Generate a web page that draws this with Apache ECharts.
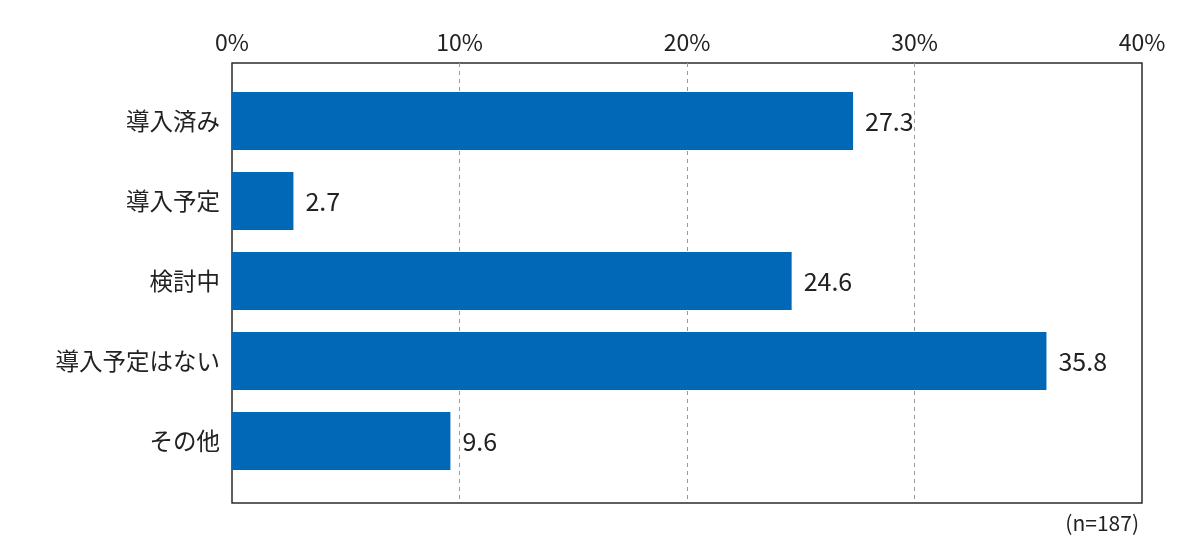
<!DOCTYPE html>
<html>
<head>
<meta charset="utf-8">
<script src="https://cdn.jsdelivr.net/npm/echarts@6/dist/echarts.min.js"></script>
<style>
  html, body { margin: 0; padding: 0; background: #fff; }
  #chart { width: 1200px; height: 554px; }
</style>
</head>
<body>
<div id="chart"></div>
<script>
const categories = ['導入済み', '導入予定', '検討中', '導入予定はない', 'その他']
const values = [27.3, 2.7, 24.6, 35.8, 9.6]
const tickLabels = ['0%', '10%', '20%', '30%', '40%']
const note = '(n=187)'

const font = '"Noto Sans CJK JP", "Noto Sans", sans-serif'
const chart = echarts.init(document.getElementById('chart'))

chart.setOption({
  animation: false,
  textStyle: { fontFamily: font },
  title: {
    text: note,
    right: 56,
    top: 508,
    textStyle: { fontSize: 21, fontWeight: 'normal', color: '#222', fontFamily: font }
  },
  grid: [
    // frame + percent axis
    { left: 232, right: 58, top: 63, bottom: 51, show: true, borderColor: '#2b2b2b', borderWidth: 1.5 },
    // bars
    { left: 232, right: 58, top: 81, bottom: 73 }
  ],
  xAxis: [
    {
      gridIndex: 0,
      type: 'value',
      position: 'top',
      min: 0,
      max: 40,
      interval: 10,
      axisLine: { show: false },
      axisTick: { show: false },
      axisLabel: {
        fontSize: 23,
        color: '#222',
        margin: 9,
        formatter: v => tickLabels[Math.round(v / 10)]
      },
      splitLine: {
        show: true,
        showMinLine: false,
        showMaxLine: false,
        lineStyle: { color: '#999', type: [4, 4], width: 1 }
      }
    },
    { gridIndex: 1, type: 'value', min: 0, max: 40, show: false }
  ],
  yAxis: [
    { gridIndex: 0, type: 'value', show: false, splitLine: { show: false } },
    {
      gridIndex: 1,
      type: 'category',
      data: categories,
      inverse: true,
      axisLine: { show: false },
      axisTick: { show: false },
      axisLabel: { fontSize: 23.5, color: '#222', margin: 12 }
    }
  ],
  series: [{
    type: 'bar',
    xAxisIndex: 1,
    yAxisIndex: 1,
    data: values,
    barWidth: 58,
    itemStyle: { color: '#0068b7' },
    label: {
      show: true,
      position: 'right',
      distance: 12,
      fontSize: 25,
      color: '#222',
      formatter: p => p.value.toFixed(1)
    }
  }]
})
</script>
</body>
</html>
